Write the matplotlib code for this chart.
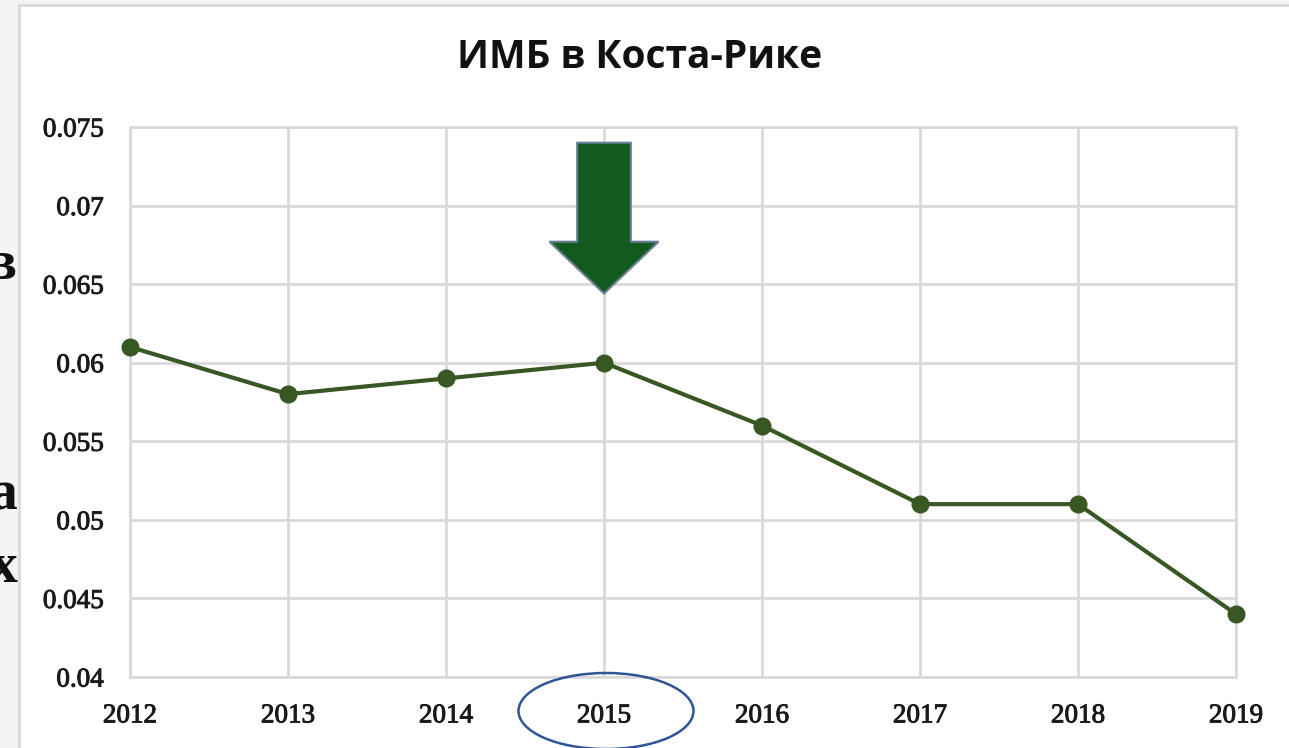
import matplotlib
matplotlib.use("Agg")
import matplotlib.pyplot as plt
import matplotlib.patheffects as pe
from matplotlib.patches import Rectangle, Polygon, Ellipse

# data
years = [2012, 2013, 2014, 2015, 2016, 2017, 2018, 2019]
imb = [0.061, 0.058, 0.059, 0.060, 0.056, 0.051, 0.051, 0.044]
y_ticks = [0.04, 0.045, 0.05, 0.055, 0.06, 0.065, 0.07, 0.075]
y_labels = ["0.04", "0.045", "0.05", "0.055", "0.06", "0.065", "0.07", "0.075"]
title = "ИМБ в Коста-Рике"
highlight_year = 2015

W, H = 1289, 748
fig = plt.figure(figsize=(W / 100, H / 100), dpi=100)
fig.patch.set_facecolor("#f3f4f6")

# slide text peeking out from behind the chart panel
for ch, ypx in [("в", 265), ("а", 495), ("х", 568)]:
    fig.text(17 / W, 1 - ypx / H, ch, ha="right", va="center",
             family="Liberation Serif", fontweight="bold", fontsize=40,
             color="#111111", zorder=1)

# chart panel
panel = Rectangle((19 / W, -0.01), 1.0, 1 - 5 / H + 0.01, transform=fig.transFigure,
                  facecolor="white", edgecolor="#d9d9d9", linewidth=2, zorder=2)
fig.patches.append(panel)

ax = fig.add_axes([130 / W, 1 - 677 / H, (1236 - 130) / W, (677 - 127) / H])
ax.set_zorder(5)
ax.patch.set_alpha(0)

ax.plot(years, imb, color="#385723", linewidth=3, marker="o",
        markersize=12, markerfacecolor="#385723", markeredgecolor="#385723",
        zorder=4, clip_on=False)

ax.set_xlim(years[0], years[-1])
ax.set_ylim(y_ticks[0], y_ticks[-1])
ax.set_xticks(years)
ax.set_xticklabels([str(y) for y in years])
ax.set_yticks(y_ticks)
ax.set_yticklabels(y_labels)
ax.grid(True, color="#d9d9d9", linewidth=2)
ax.set_axisbelow(True)
for s in ax.spines.values():
    s.set_color("#d9d9d9")
    s.set_linewidth(2)
ax.tick_params(length=0, labelsize=19.5, colors="#1a1a1a")
ax.tick_params(axis="x", pad=19)
ax.tick_params(axis="y", pad=19)
for lab in ax.get_xticklabels() + ax.get_yticklabels():
    lab.set_family("Liberation Serif")
    lab.set_path_effects([pe.withStroke(linewidth=0.7, foreground="#1a1a1a")])

fig.text(640 / W, 1 - 57 / H, title, ha="center", va="center",
         family="Open Sans", fontweight="bold", fontsize=28, color="#111111")

# down arrow above 2015
hx = highlight_year
shaft, head = 0.17, 0.345
y_top, y_base, y_tip = 0.0740, 0.0677, 0.0644
arrow = Polygon([(hx - shaft, y_top), (hx + shaft, y_top), (hx + shaft, y_base),
                 (hx + head, y_base), (hx, y_tip), (hx - head, y_base),
                 (hx - shaft, y_base)],
                closed=True, facecolor="#135a1f", edgecolor="#6a7f99",
                linewidth=1.5, zorder=6, clip_on=False)
ax.add_patch(arrow)

# ellipse around the 2015 label
ell = Ellipse((606 / W, 1 - 711 / H), 175 / W, 76 / H, transform=fig.transFigure,
              facecolor="none", edgecolor="#2f5597", linewidth=1.8, zorder=10)
fig.patches.append(ell)

fig.savefig("out.png", dpi=100, facecolor=fig.get_facecolor())
